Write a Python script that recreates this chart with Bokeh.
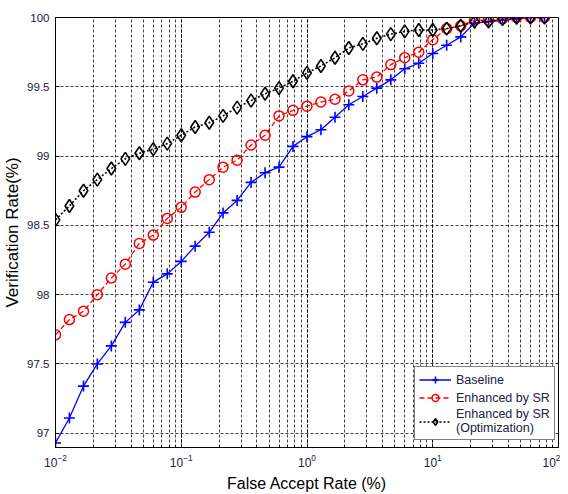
from bokeh.plotting import figure
from bokeh.models import FixedTicker, Legend, LegendItem
from bokeh.embed import file_html
from bokeh.resources import INLINE

far = [0.01, 0.0129, 0.0167, 0.0215, 0.0278, 0.0359, 0.0464, 0.0599, 0.0774,
       0.1, 0.129, 0.167, 0.215, 0.278, 0.359, 0.464, 0.599, 0.774,
       1.0, 1.29, 1.67, 2.15, 2.78, 3.59, 4.64, 5.99, 7.74,
       10.0, 12.9, 16.7, 21.5, 27.8, 35.9, 46.4, 59.9, 77.4]

baseline = [96.93, 97.11, 97.34, 97.50, 97.63, 97.80, 97.89, 98.09, 98.15,
            98.24, 98.35, 98.45, 98.59, 98.68, 98.81, 98.88, 98.92, 99.07,
            99.14, 99.19, 99.28, 99.37, 99.43, 99.49, 99.55, 99.63, 99.67,
            99.74, 99.80, 99.86, 99.96, 99.97, 99.98, 99.99, 100.0, 100.0]

enh_sr = [97.71, 97.82, 97.88, 98.00, 98.12, 98.22, 98.37, 98.43, 98.55,
          98.63, 98.74, 98.83, 98.92, 98.97, 99.08, 99.15, 99.29, 99.33,
          99.36, 99.39, 99.41, 99.47, 99.55, 99.57, 99.66, 99.71, 99.75,
          99.84, 99.92, 99.94, 99.98, 99.98, 99.99, 100.0, 100.0, 100.0]

enh_opt = [98.54, 98.64, 98.75, 98.83, 98.91, 98.98, 99.02, 99.05, 99.09,
           99.15, 99.21, 99.24, 99.29, 99.35, 99.40, 99.45, 99.49, 99.54,
           99.60, 99.65, 99.71, 99.78, 99.81, 99.85, 99.88, 99.90, 99.91,
           99.91, 99.92, 99.94, 99.97, 99.97, 99.99, 100.0, 100.0, 100.0]

y_ticks = [97, 97.5, 98, 98.5, 99, 99.5, 100]
y_tick_labels = ["97", "97.5", "98", "98.5", "99", "99.5", "100"]

FONT = "Liberation Sans"

p = figure(width=560, height=494, x_axis_type="log",
           x_range=(0.01, 100), y_range=(96.897, 100),
           output_backend="svg", toolbar_location=None,
           min_border_left=50, min_border_right=2,
           min_border_top=17, min_border_bottom=44)

p.outline_line_color = "black"
p.outline_line_width = 1

# grids
for g in (p.xgrid, p.ygrid):
    g.grid_line_color = "black"
    g.grid_line_dash = "3 2"
    g.grid_line_width = 1
    g.grid_line_alpha = 0.75
p.xgrid.minor_grid_line_color = "black"
p.xgrid.minor_grid_line_dash = "3 2"
p.xgrid.minor_grid_line_alpha = 0.75

p.yaxis.ticker = FixedTicker(ticks=y_ticks)
p.yaxis.major_label_overrides = {t: l for t, l in zip(y_ticks, y_tick_labels)}

for ax in (p.xaxis[0], p.yaxis[0]):
    ax.axis_line_color = "black"
    ax.major_tick_in = 4
    ax.major_tick_out = 0
    ax.minor_tick_in = 2
    ax.minor_tick_out = 0
    ax.major_tick_line_color = "black"
    ax.minor_tick_line_color = "black"
    ax.major_label_text_font = FONT
    ax.major_label_text_font_size = "12px"
    ax.major_label_text_color = "#202040"
    ax.axis_label_text_font = FONT
    ax.axis_label_text_font_style = "normal"
    ax.axis_label_text_color = "black"
    ax.major_label_standoff = 6
p.yaxis.minor_tick_line_color = None
p.yaxis.major_label_text_font_size = "11.5px"

p.xaxis.axis_label = "False Accept Rate (%)"
p.yaxis.axis_label = "Verification Rate(%)"
p.xaxis.axis_label_text_font_size = "16px"
p.yaxis.axis_label_text_font_size = "17px"
p.xaxis.axis_label_standoff = 5
p.yaxis.axis_label_standoff = 2

# series
l1 = p.line(far, baseline, line_color="blue", line_width=1.3)
m1 = p.scatter(far, baseline, marker="cross", size=11, line_color="blue", line_width=1.6)

l2 = p.line(far, enh_sr, line_color="red", line_width=1.3, line_dash="5 3")
m2 = p.scatter(far, enh_sr, marker="circle", size=10, line_color="red",
               fill_color=None, line_width=1.5)

l3 = p.line(far, enh_opt, line_color="black", line_width=1.6, line_dash="2 2")
m3 = p.scatter(far, enh_opt, marker="diamond", size=13, line_color="black",
               fill_color=None, line_width=1.6)

legend = Legend(items=[
    LegendItem(label="Baseline", renderers=[l1, m1]),
    LegendItem(label="Enhanced by SR", renderers=[l2, m2]),
    LegendItem(label="Enhanced by SR\n(Optimization)", renderers=[l3, m3]),
], location=(359, 7))
legend.label_text_font = FONT
legend.label_text_font_size = "12.5px"
legend.label_text_line_height = 1.3
legend.label_text_color = "#202040"
legend.glyph_width = 32
legend.glyph_height = 17
legend.label_height = 17
legend.label_standoff = 5
legend.spacing = 1
legend.padding = 4
legend.margin = 0
legend.border_line_color = "black"
legend.border_line_width = 1
legend.background_fill_color = "white"
legend.background_fill_alpha = 1
p.add_layout(legend, "center")

open("out.html", "w").write(file_html(p, INLINE))
